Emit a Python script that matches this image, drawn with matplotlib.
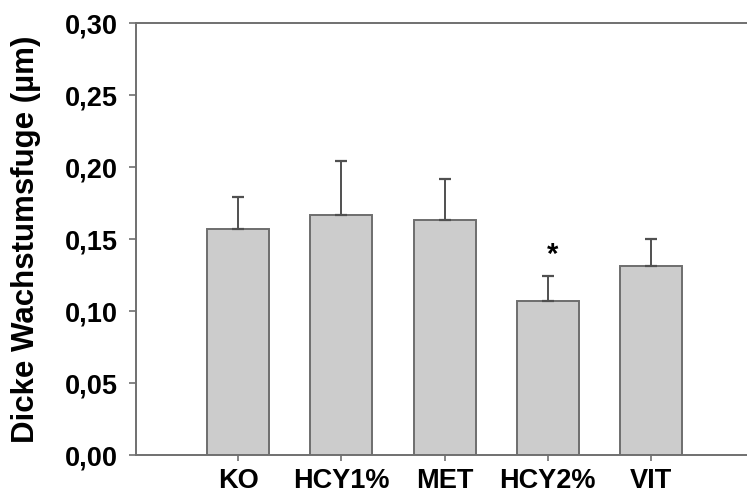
import matplotlib
matplotlib.use("Agg")
import matplotlib.pyplot as plt
import numpy as np

categories = ["KO", "HCY1%", "MET", "HCY2%", "VIT"]
means = [0.157, 0.167, 0.163, 0.107, 0.131]
errors = [0.022, 0.037, 0.029, 0.017, 0.019]
yticks = [0.00, 0.05, 0.10, 0.15, 0.20, 0.25, 0.30]
ytick_labels = ["0,00", "0,05", "0,10", "0,15", "0,20", "0,25", "0,30"]
signif_index = 3

plt.rcParams['font.family'] = ['Liberation Sans', 'DejaVu Sans']

fig = plt.figure(figsize=(7.47, 4.95), dpi=100)
ax = fig.add_axes([136/747, 40/495, 1 - 136/747, 432/495])

x = np.arange(len(categories))
ax.bar(x, means, width=0.6, color='#cccccc', edgecolor='#6e6e6e', linewidth=1.4, zorder=2)
ax.errorbar(x, means, yerr=[np.zeros(len(errors)), errors], fmt='none',
            ecolor='#505050', elinewidth=1.4, capsize=4.3, capthick=1.6, zorder=3)

ax.text(x[signif_index] + 0.05, means[signif_index] + errors[signif_index] + 0.005, "*",
        ha='center', va='bottom', fontsize=21, fontweight='bold', color='black')

ax.set_xlim(-0.99, 4.93)
ax.set_ylim(0, 0.30)
ax.set_yticks(yticks)
ax.set_yticklabels(ytick_labels, fontsize=19.5, fontweight='bold')
ax.set_xticks(x)
ax.set_xticklabels(categories, fontsize=19.5, fontweight='bold')

for side in ['left', 'bottom', 'top']:
    ax.spines[side].set_color('#707070')
    ax.spines[side].set_linewidth(1.4)
ax.spines['right'].set_visible(False)

ax.tick_params(axis='y', direction='out', length=5, width=1.2, color='#707070', pad=8)
ax.tick_params(axis='x', direction='out', length=4, width=1.2, color='#707070', pad=5.5)

ax.set_ylabel("Dicke Wachstumsfuge (µm)", fontsize=22.5, fontweight='bold', labelpad=17)

fig.savefig("out.png", dpi=100)
